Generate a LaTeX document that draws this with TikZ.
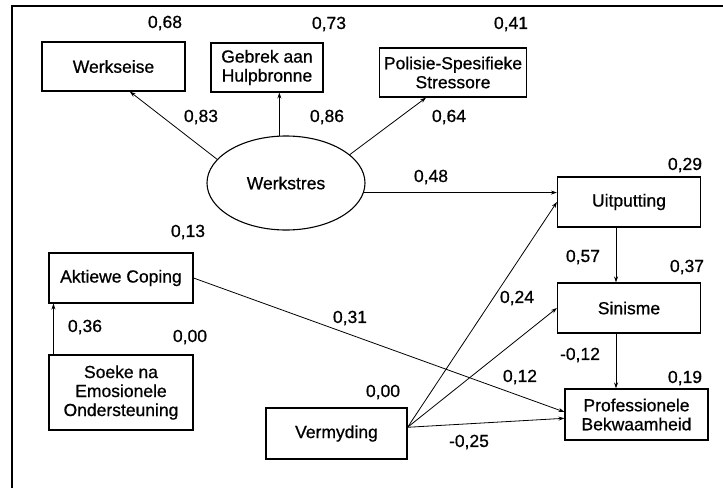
\documentclass[tikz,border=0pt]{standalone}
\usepackage{fontspec}
\setmainfont{Liberation Sans}
\newfontfamily\scanfont[FakeBold=0.7]{Liberation Sans}
\usetikzlibrary{arrows.meta, calc, positioning, shapes.geometric}

\begin{document}
\begin{tikzpicture}[x=1pt,y=-1pt,
            every node/.style={font=\scanfont\fontsize{17.5}{19}\selectfont},
            box/.style={draw,line width=1.1pt,minimum height=49pt,inner sep=1pt,align=center},
            con/.style={line width=0.8pt,-{Stealth[length=6pt,width=4pt]}},
            frame/.style={line width=1.6pt}]
            \useasboundingbox (0,0) rectangle (723,488);
            \draw[frame] (12,488) -- (12,6) -- (723,6);
            \node[box,minimum width=143pt] (werkseise) at (113.5,66.5){Werkseise};
            \node[box,minimum width=112pt] (gebrek) at (267,67.5){Gebrek aan\\Hulpbronne};
            \node[box,minimum width=147pt] (polisie) at (453,72.5){Polisie-Spesifieke\\Stressore};
            \node[draw,ellipse,line width=1.1pt,minimum width=158pt,minimum height=94pt] (werkstres) at (286,183){Werkstres};
            \node[box,minimum width=143pt,minimum height=50pt] (uitputting) at (629,202){Uitputting};
            \node[box,minimum width=143pt,minimum height=50pt] (sinisme) at (629,308){Sinisme};
            \node[box,minimum width=143pt,minimum height=51pt] (prof) at (636.5,414.5){Professionele\\Bekwaamheid};
            \node[box,minimum width=144pt,minimum height=50pt] (aktiewe) at (121,278){Aktiewe Coping};
            \node[box,minimum width=144pt,minimum height=75pt] (soeke) at (121,392.5){Soeke na\\Emosionele\\Ondersteuning};
            \node[box,minimum width=141pt,minimum height=51pt] (vermyding) at (336.5,433.5){Vermyding};

            \draw[con] (werkstres.161) -- (werkseise.303);
            \draw[con] (werkstres.98) -- (werkstres.98 |- gebrek.south);
            \draw[con] (werkstres.24) -- (polisie.223);
            \draw[con] (werkstres.-7) -- (werkstres.-7 -| uitputting.west);
            \draw[con] ([xshift=-13pt]uitputting.south) -- ([xshift=-13pt]uitputting.south |- sinisme.north);
            \draw[con] ([xshift=-13pt]sinisme.south) -- ([xshift=-13pt]sinisme.south |- prof.north);
            \draw[con] ([xshift=5pt]soeke.north west) -- ([xshift=5pt]aktiewe.south west);
            \draw[con] (aktiewe.east) -- (prof.178);
            \draw[con] (vermyding.5) -- (uitputting.west);
            \draw[con] (vermyding.5) -- (sinisme.west);
            \draw[con] (vermyding.5) -- (prof.183);

            \node[] (l68) at (165,23){0,68};
            \node[] (l73) at (329,24){0,73};
            \node[] (l41) at (511,24){0,41};
            \node[] (l83) at (201,117){0,83};
            \node[] (l86) at (327,117){0,86};
            \node[] (l64) at (449,117){0,64};
            \node[] (l48) at (431,177){0,48};
            \node[] (l13) at (188,232){0,13};
            \node[] (l29) at (685,165){0,29};
            \node[] (l57) at (583,257){0,57};
            \node[] (l37) at (687,267){0,37};
            \node[] (l36) at (85,327){0,36};
            \node[] (l00a) at (190,337){0,00};
            \node[] (l31) at (350,318){0,31};
            \node[] (l24) at (517,298){0,24};
            \node[] (l12) at (520,377){0,12};
            \node[] (ln12) at (580,355){-0,12};
            \node[] (l19) at (685,378){0,19};
            \node[] (l00b) at (383,392){0,00};
            \node[] (ln25) at (469,442){-0,25};
\end{tikzpicture}
\end{document}
